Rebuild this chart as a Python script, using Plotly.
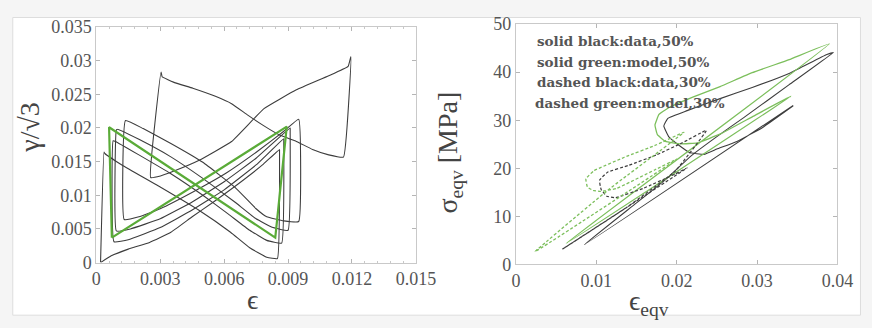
import plotly.graph_objects as go

W, H = 872, 328

# ---------------- Left panel: gamma/sqrt(3) vs epsilon ----------------
green_eps = [0.00073, 0.00894, 0.00840, 0.00060, 0.00073]
green_gam = [0.0037, 0.0202, 0.0037, 0.0201, 0.0037]

loopA_eps = [0.0002, 0.0007, 0.0015, 0.0025, 0.0035, 0.0045, 0.0055, 0.0065, 0.0078, 0.0086,
             0.0086, 0.0085, 0.0080, 0.0072, 0.0063, 0.0048, 0.0029, 0.0012, 0.0004, 0.00036, 0.0002]
loopA_gam = [0.0000, 0.0010, 0.0020, 0.0030, 0.0045, 0.0068, 0.0090, 0.0113, 0.0145, 0.0168,
             0.0165, 0.0006, 0.0008, 0.0022, 0.0045, 0.0078, 0.0114, 0.0145, 0.0162, 0.0164, 0.0001]

loopB_eps = [0.00094, 0.0016, 0.0030, 0.0045, 0.0060, 0.0075, 0.0091, 0.0091, 0.0090,
             0.0083, 0.0075, 0.0065, 0.0050, 0.0035, 0.0020, 0.0010, 0.00094, 0.00094]
loopB_gam = [0.0047, 0.0050, 0.0065, 0.0090, 0.0120, 0.0155, 0.0200, 0.0196, 0.0048,
             0.0052, 0.0065, 0.0090, 0.0125, 0.0157, 0.0183, 0.0198, 0.0197, 0.0047]

loopC_eps = [0.00083, 0.0015, 0.0030, 0.0045, 0.0060, 0.0075, 0.0088, 0.0088, 0.0087,
             0.0080, 0.0072, 0.0062, 0.0050, 0.0035, 0.0020, 0.0009, 0.00079, 0.00083]
loopC_gam = [0.0031, 0.0034, 0.0052, 0.0078, 0.0108, 0.0145, 0.0184, 0.0180, 0.0029,
             0.0033, 0.0048, 0.0072, 0.0100, 0.0132, 0.0160, 0.0180, 0.0181, 0.0031]

loopD_eps = [0.00131, 0.0020, 0.0030, 0.0046, 0.0061, 0.0076, 0.0088, 0.0095, 0.0095,
             0.0088, 0.0080, 0.0075, 0.0065, 0.0050, 0.0035, 0.0022, 0.00137, 0.00131]
loopD_gam = [0.0064, 0.0068, 0.0080, 0.0106, 0.0133, 0.0166, 0.0195, 0.0213, 0.0061,
             0.0062, 0.0068, 0.0080, 0.0112, 0.0149, 0.0177, 0.0199, 0.0211, 0.0064]

loopE_eps = [0.00255, 0.00301, 0.00362, 0.00483, 0.00635, 0.00787, 0.00939, 0.01091, 0.01182, 0.01195,
             0.01160, 0.01091, 0.01015, 0.00939, 0.00863, 0.00787, 0.00711, 0.00635, 0.00559,
             0.00453, 0.00362, 0.00309, 0.00304, 0.00255]
loopE_gam = [0.01264, 0.01287, 0.01356, 0.01519, 0.01798, 0.02286, 0.02565, 0.02774, 0.02913, 0.0306,
             0.01566, 0.0160, 0.0168, 0.0180, 0.0189, 0.0203, 0.0219, 0.0236, 0.0247,
             0.0259, 0.0268, 0.0276, 0.0283, 0.01264]

left_xticks = [0, 0.003, 0.006, 0.009, 0.012, 0.015]
left_xlabels = ["0", "0.003", "0.006", "0.009", "0.012", "0.015"]
left_yticks = [0, 0.005, 0.01, 0.015, 0.02, 0.025, 0.03, 0.035]
left_ylabels = ["0", "0.005", "0.01", "0.015", "0.02", "0.025", "0.03", "0.035"]

# ---------------- Right panel: sigma_eqv vs eps_eqv ----------------
sbk_eps = [0.0345, 0.0085, 0.0150, 0.0185, 0.0218, 0.0250, 0.0283, 0.0340, 0.0395,
           0.0386, 0.0342, 0.0294, 0.0254, 0.0213, 0.0189, 0.0184, 0.0190, 0.0202, 0.0216,
           0.0234, 0.0250, 0.0275, 0.0307, 0.0345]
sbk_sig = [33.1, 4.1, 12.8, 17.5, 22.6, 26.6, 30.5, 37.4, 44.1,
           43.6, 39.9, 36.8, 34.5, 32.0, 30.4, 28.8, 26.6, 24.9, 23.3,
           22.9, 24.0, 25.6, 28.5, 33.0]

sgr_eps = [0.0342, 0.00625, 0.0390,
           0.0340, 0.0294, 0.0254, 0.0220, 0.0190, 0.0178, 0.0173, 0.0176, 0.0186, 0.0205, 0.0226,
           0.0255, 0.0295, 0.0342]
sgr_sig = [35.0, 4.4, 45.9,
           42.6, 39.9, 37.0, 34.8, 32.6, 31.2, 29.0, 27.0, 25.6, 25.1, 25.3,
           27.2, 30.8, 35.0]

dbk_eps = [0.0213, 0.0058, 0.0138, 0.0198, 0.0237,
           0.0207, 0.0175, 0.0140, 0.0114, 0.0104, 0.0106, 0.0113, 0.0124,
           0.0158, 0.0198, 0.0213]
dbk_sig = [20.1, 3.2, 11.9, 19.4, 27.9,
           25.3, 22.8, 20.6, 19.2, 17.5, 15.6, 14.2, 13.9,
           15.8, 18.8, 20.1]

dgr_eps = [0.0200, 0.0024, 0.0117, 0.0209,
           0.0175, 0.0135, 0.0097, 0.0087, 0.0089, 0.0096, 0.0105,
           0.0125, 0.0173, 0.0200]
dgr_sig = [21.9, 2.7, 15.8, 27.5,
           24.9, 22.3, 19.5, 17.8, 16.1, 15.4, 15.2,
           15.8, 19.7, 21.9]

right_xticks = [0, 0.01, 0.02, 0.03, 0.04]
right_xlabels = ["0", "0.01", "0.02", "0.03", "0.04"]
right_yticks = [0, 10, 20, 30, 40, 50]
right_ylabels = ["0", "10", "20", "30", "40", "50"]

legend_lines = ["solid black:data,50%", "solid green:model,50%",
                "dashed black:data,30%", "dashed green:model,30%"]

# ---------------- Figure ----------------
BLACK = "#3d3d3d"
GREEN_L = "#5aab38"
GREEN_R = "#7cbf5c"
SERIF = "Liberation Serif, Tinos, Times New Roman, serif"

fig = go.Figure()

for ex, gy in [(loopA_eps, loopA_gam), (loopB_eps, loopB_gam), (loopC_eps, loopC_gam),
               (loopD_eps, loopD_gam), (loopE_eps, loopE_gam)]:
    fig.add_trace(go.Scatter(x=ex, y=gy, mode="lines", xaxis="x", yaxis="y",
                             line=dict(color=BLACK, width=1.1, shape="spline", smoothing=0.3),
                             showlegend=False, hoverinfo="skip"))
fig.add_trace(go.Scatter(x=green_eps, y=green_gam, mode="lines", xaxis="x", yaxis="y",
                         line=dict(color=GREEN_L, width=2.2), showlegend=False, hoverinfo="skip"))

fig.add_trace(go.Scatter(x=sbk_eps, y=sbk_sig, mode="lines", xaxis="x2", yaxis="y2",
                         line=dict(color=BLACK, width=1.1, shape="spline", smoothing=0.3),
                         showlegend=False, hoverinfo="skip"))
fig.add_trace(go.Scatter(x=sgr_eps, y=sgr_sig, mode="lines", xaxis="x2", yaxis="y2",
                         line=dict(color=GREEN_R, width=1.3, shape="spline", smoothing=0.3),
                         showlegend=False, hoverinfo="skip"))
fig.add_trace(go.Scatter(x=dbk_eps, y=dbk_sig, mode="lines", xaxis="x2", yaxis="y2",
                         line=dict(color=BLACK, width=1.2, dash="3px,2px", shape="spline", smoothing=0.3),
                         showlegend=False, hoverinfo="skip"))
fig.add_trace(go.Scatter(x=dgr_eps, y=dgr_sig, mode="lines", xaxis="x2", yaxis="y2",
                         line=dict(color=GREEN_R, width=1.3, dash="3px,2px", shape="spline", smoothing=0.3),
                         showlegend=False, hoverinfo="skip"))

tickfont = dict(family=SERIF, size=18, color="#555555")
axcommon = dict(showline=True, linecolor="#c9c9c9", linewidth=1, mirror="ticks",
                ticks="inside", ticklen=4, tickcolor="#b5b5b5", showgrid=False,
                zeroline=False, tickfont=tickfont, fixedrange=True)

fig.update_layout(
    width=W, height=H,
    margin=dict(l=0, r=0, t=0, b=0),
    paper_bgcolor="#f5f5f5",
    plot_bgcolor="white",
    xaxis=dict(domain=[94 / W, 423 / W], range=[0, 0.015], tickvals=left_xticks,
               ticktext=left_xlabels, anchor="y",
               minor=dict(ticks="inside", ticklen=2, dtick=0.0006, tickcolor="#c8c8c8"),
               **axcommon),
    yaxis=dict(domain=[1 - 269 / H, 1 - 18 / H], range=[0, 0.035], tickvals=left_yticks,
               ticktext=left_ylabels, anchor="x", **axcommon),
    xaxis2=dict(domain=[526 / W, 857 / W], range=[0, 0.04], tickvals=right_xticks,
                ticktext=right_xlabels, anchor="y2", **axcommon),
    yaxis2=dict(domain=[1 - 271 / H, 1 - 15 / H], range=[0, 50], tickvals=right_yticks,
                ticktext=right_ylabels, anchor="x2", **axcommon),
    shapes=[dict(type="rect", xref="paper", yref="paper", x0=8 / W, x1=1.01,
                 y0=1 - 325 / H, y1=1 - 8 / H, fillcolor="white",
                 line=dict(color="#dddddd", width=1), layer="below")],
)

titlefont = dict(family=SERIF, size=28, color="#444444")
ann = [
    dict(text="γ/√3", x=25 / W, y=1 - 125 / H, textangle=-90),
    dict(text="ϵ", x=255 / W, y=1 - 308 / H),
    dict(text="σ<sub>eqv</sub> [MPa]", x=458 / W, y=1 - 152 / H, textangle=-90),
    dict(text="ϵ<sub>eqv</sub>", x=663 / W, y=1 - 311 / H),
]
for a in ann:
    fig.add_annotation(xref="paper", yref="paper", showarrow=False,
                       xanchor="center", yanchor="middle", font=titlefont, **a)

for i, t in enumerate(legend_lines):
    fig.add_annotation(text="<b>" + t + "</b>", xref="paper", yref="paper",
                       x=(546 if i < 3 else 544) / W, y=1 - (33 + 22 * i) / H,
                       xanchor="left", yanchor="middle", showarrow=False,
                       font=dict(family="DejaVu Serif", size=13.5, color="#555555"))

fig.write_html("out.html")
